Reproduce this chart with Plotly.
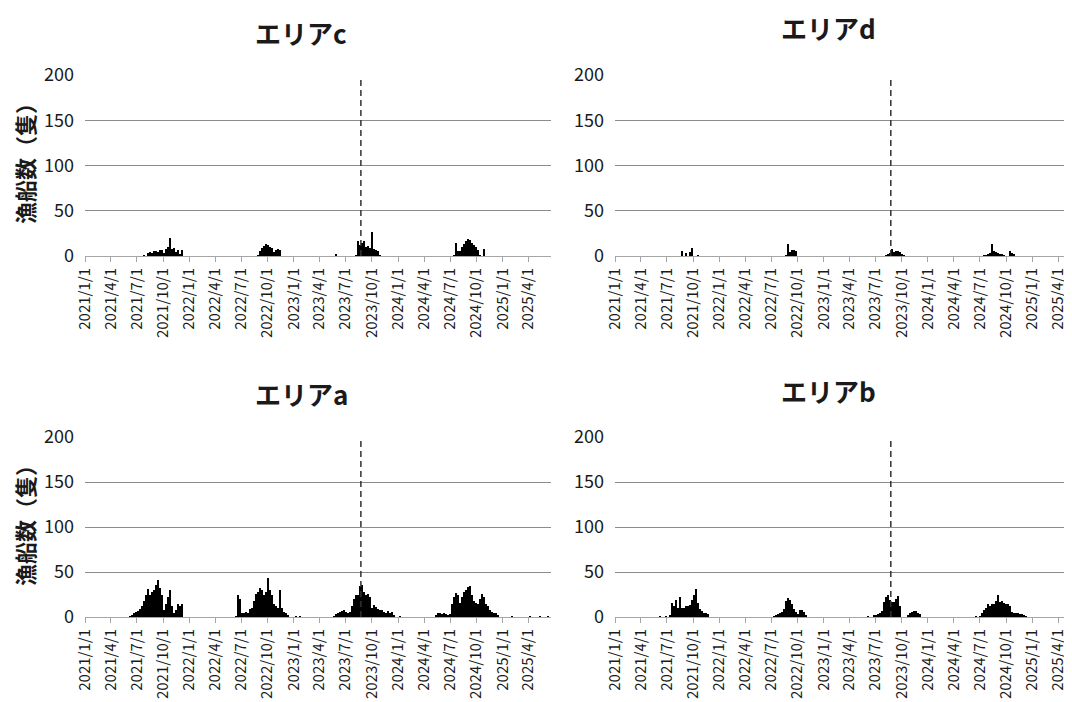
import plotly.graph_objects as go
import pandas as pd

# ---------------- data (weekly counts) ----------------
quarter_ticks = ["2021-01-01", "2021-04-01", "2021-07-01", "2021-10-01",
                 "2022-01-01", "2022-04-01", "2022-07-01", "2022-10-01",
                 "2023-01-01", "2023-04-01", "2023-07-01", "2023-10-01",
                 "2024-01-01", "2024-04-01", "2024-07-01", "2024-10-01",
                 "2025-01-01", "2025-04-01"]
quarter_labels = ["2021/1/1", "2021/4/1", "2021/7/1", "2021/10/1",
                  "2022/1/1", "2022/4/1", "2022/7/1", "2022/10/1",
                  "2023/1/1", "2023/4/1", "2023/7/1", "2023/10/1",
                  "2024/1/1", "2024/4/1", "2024/7/1", "2024/10/1",
                  "2025/1/1", "2025/4/1"]

release_date = "2023-08-24"

# エリアc
c_starts = ["2021-07-22", "2022-08-25", "2023-05-25", "2023-08-03", "2024-07-11"]
c_counts = [
    [1, 0, 3, 4, 3, 6, 5, 4, 7, 7, 3, 8, 10, 20, 8, 9, 4, 7, 2, 7],
    [1, 5, 9, 11, 13, 12, 10, 9, 4, 7, 8, 7],
    [2],
    [1, 17, 12, 14, 17, 10, 11, 9, 26, 8, 7, 6, 1],
    [1, 14, 5, 6, 10, 13, 17, 19, 18, 14, 12, 10, 7, 1, 0, 8],
]

# エリアd
d_starts = ["2021-08-19", "2022-08-18", "2023-08-03", "2024-07-11"]
d_counts = [
    [5, 0, 3, 0, 4, 9, 0, 0, 1],
    [1, 13, 4, 7, 7, 6],
    [1, 2, 3, 8, 4, 5, 5, 4, 2, 1],
    [1, 1, 2, 3, 13, 5, 4, 3, 2, 2, 1, 0, 0, 6, 3, 2],
]

# エリアa
a_starts = ["2021-06-03", "2022-06-09", "2023-01-05", "2023-05-18", "2024-01-04",
            "2024-05-09", "2025-01-30", "2025-04-03", "2025-05-08", "2025-06-05"]
a_counts = [
    [1, 2, 4, 6, 7, 9, 12, 18, 24, 31, 25, 28, 30, 36, 41, 32, 24, 8, 14, 22,
     30, 12, 4, 8, 15, 12, 14],
    [1, 24, 20, 5, 4, 6, 5, 9, 10, 18, 26, 28, 32, 30, 24, 28, 43, 30, 24, 15,
     12, 10, 30, 10, 6, 5, 2],
    [1, 0, 1],
    [1, 3, 5, 6, 7, 8, 6, 5, 6, 12, 20, 24, 25, 34, 36, 28, 24, 26, 22, 10,
     13, 11, 9, 8, 8, 6, 5, 7, 5, 6, 2],
    [1],
    [2, 4, 5, 3, 5, 3, 2, 3, 14, 22, 27, 25, 16, 22, 28, 30, 33, 34, 24, 18,
     16, 15, 20, 26, 22, 14, 12, 8, 6, 5, 4, 2],
    [1],
    [1],
    [1],
    [1],
]

# エリアb
b_starts = ["2021-06-03", "2021-06-24", "2022-07-07", "2023-06-01", "2024-06-13"]
b_counts = [
    [1],
    [1, 0, 2, 16, 12, 19, 10, 22, 10, 10, 12, 12, 13, 19, 25, 31, 16, 9, 7, 5, 4, 3],
    [1, 2, 3, 4, 6, 9, 18, 21, 19, 15, 9, 6, 3, 8, 8, 6, 2],
    [1, 0, 0, 2, 2, 3, 5, 7, 17, 22, 25, 19, 17, 17, 20, 23, 12, 0, 0, 0, 2, 5,
     6, 7, 7, 5, 3],
    [1, 0, 1, 5, 8, 10, 14, 12, 15, 14, 18, 24, 17, 18, 16, 14, 15, 12, 6, 5, 5,
     4, 3, 3, 2, 1],
]

titles = ["エリアc", "エリアd", "エリアa", "エリアb"]
y_title = "漁船数（隻）"

# ---------------- figure ----------------
# the page body has an 8px margin: the figure is drawn 8px smaller and all
# reference pixel positions are shifted by that offset
OFF = 8
W, H = 1072 - OFF, 702 - OFF
FONT = "Noto Sans CJK JP"
TXT = "#1a1a1a"


def season_series(starts, counts):
    xs, ys = [], []
    for s, vals in zip(starts, counts):
        dates = pd.date_range(s, periods=len(vals), freq="7D")
        xs.extend(dates)
        ys.extend(vals)
    return xs, ys


def fx(p):
    return (p - OFF) / W


def fy(p):
    return 1 - (p - OFF) / H


panels = [
    # data, x-domain px, y-domain px (top, bottom), range end, title pos
    (c_starts, c_counts, (85, 551), (75, 256), "2025-06-19", (301, 33)),
    (d_starts, d_counts, (615, 1072), (75, 256), "2025-05-19", (828, 28)),
    (a_starts, a_counts, (85, 551), (437, 617), "2025-06-19", (301, 393)),
    (b_starts, b_counts, (615, 1072), (437, 617), "2025-05-19", (828, 390)),
]

fig = go.Figure()
layout = {}
annotations = []
shapes = []
week_ms = 7 * 24 * 3600 * 1000

for i, (starts, counts, xd, yd, rend, tpos) in enumerate(panels):
    n = "" if i == 0 else str(i + 1)
    xs, ys = season_series(starts, counts)
    fig.add_trace(go.Bar(
        x=xs, y=ys, xaxis="x" + n, yaxis="y" + n,
        marker=dict(color="black", line=dict(width=0)),
        width=week_ms, offset=0, showlegend=False,
        hovertemplate="%{x|%Y/%m/%d}: %{y}<extra></extra>",
    ))
    layout["xaxis" + n] = dict(
        domain=[fx(xd[0]), min(1.0, fx(xd[1]))], anchor="y" + n, type="date",
        range=["2021-01-01", rend], automargin=False,
        tickmode="array", tickvals=quarter_ticks, ticktext=quarter_labels,
        tickangle=-90, ticks="outside", ticklen=5, tickcolor="#a6a6a6",
        showline=True, linecolor="#a6a6a6", linewidth=1, showgrid=False,
        zeroline=False, tickfont=dict(family=FONT, size=15, color=TXT),
    )
    layout["yaxis" + n] = dict(
        domain=[fy(yd[1]), fy(yd[0])], anchor="x" + n, automargin=False,
        range=[0, 200], tickmode="array", tickvals=[0, 50, 100, 150, 200],
        showgrid=True, gridcolor="#8c8c8c", gridwidth=1, zeroline=False,
        showline=False, ticks="", ticklabelstandoff=10,
        tickfont=dict(family=FONT, size=18, color=TXT),
    )
    shapes.append(dict(
        type="line", xref="x" + n, yref="y" + n,
        x0=release_date, x1=release_date, y0=0, y1=197,
        line=dict(color="#333333", width=1.5, dash="6px,4px"),
    ))
    annotations.append(dict(
        text="<b>" + titles[i] + "</b>", xref="paper", yref="paper",
        x=fx(tpos[0]), y=fy(tpos[1]), xanchor="center", yanchor="middle",
        showarrow=False, font=dict(family=FONT, size=26, color=TXT),
    ))

for yc in (158, 520):
    annotations.append(dict(
        text="<b>" + y_title + "</b>", xref="paper", yref="paper",
        x=fx(24), y=fy(yc), xanchor="center", yanchor="middle",
        textangle=-90, showarrow=False,
        font=dict(family=FONT, size=22, color=TXT),
    ))

fig.update_layout(
    width=W, height=H, margin=dict(l=0, r=0, t=0, b=0, autoexpand=False),
    paper_bgcolor="white", plot_bgcolor="white",
    barmode="overlay", bargap=0,
    annotations=annotations, shapes=shapes,
    font=dict(family=FONT, color=TXT),
    **layout,
)

fig.write_html("out.html")
